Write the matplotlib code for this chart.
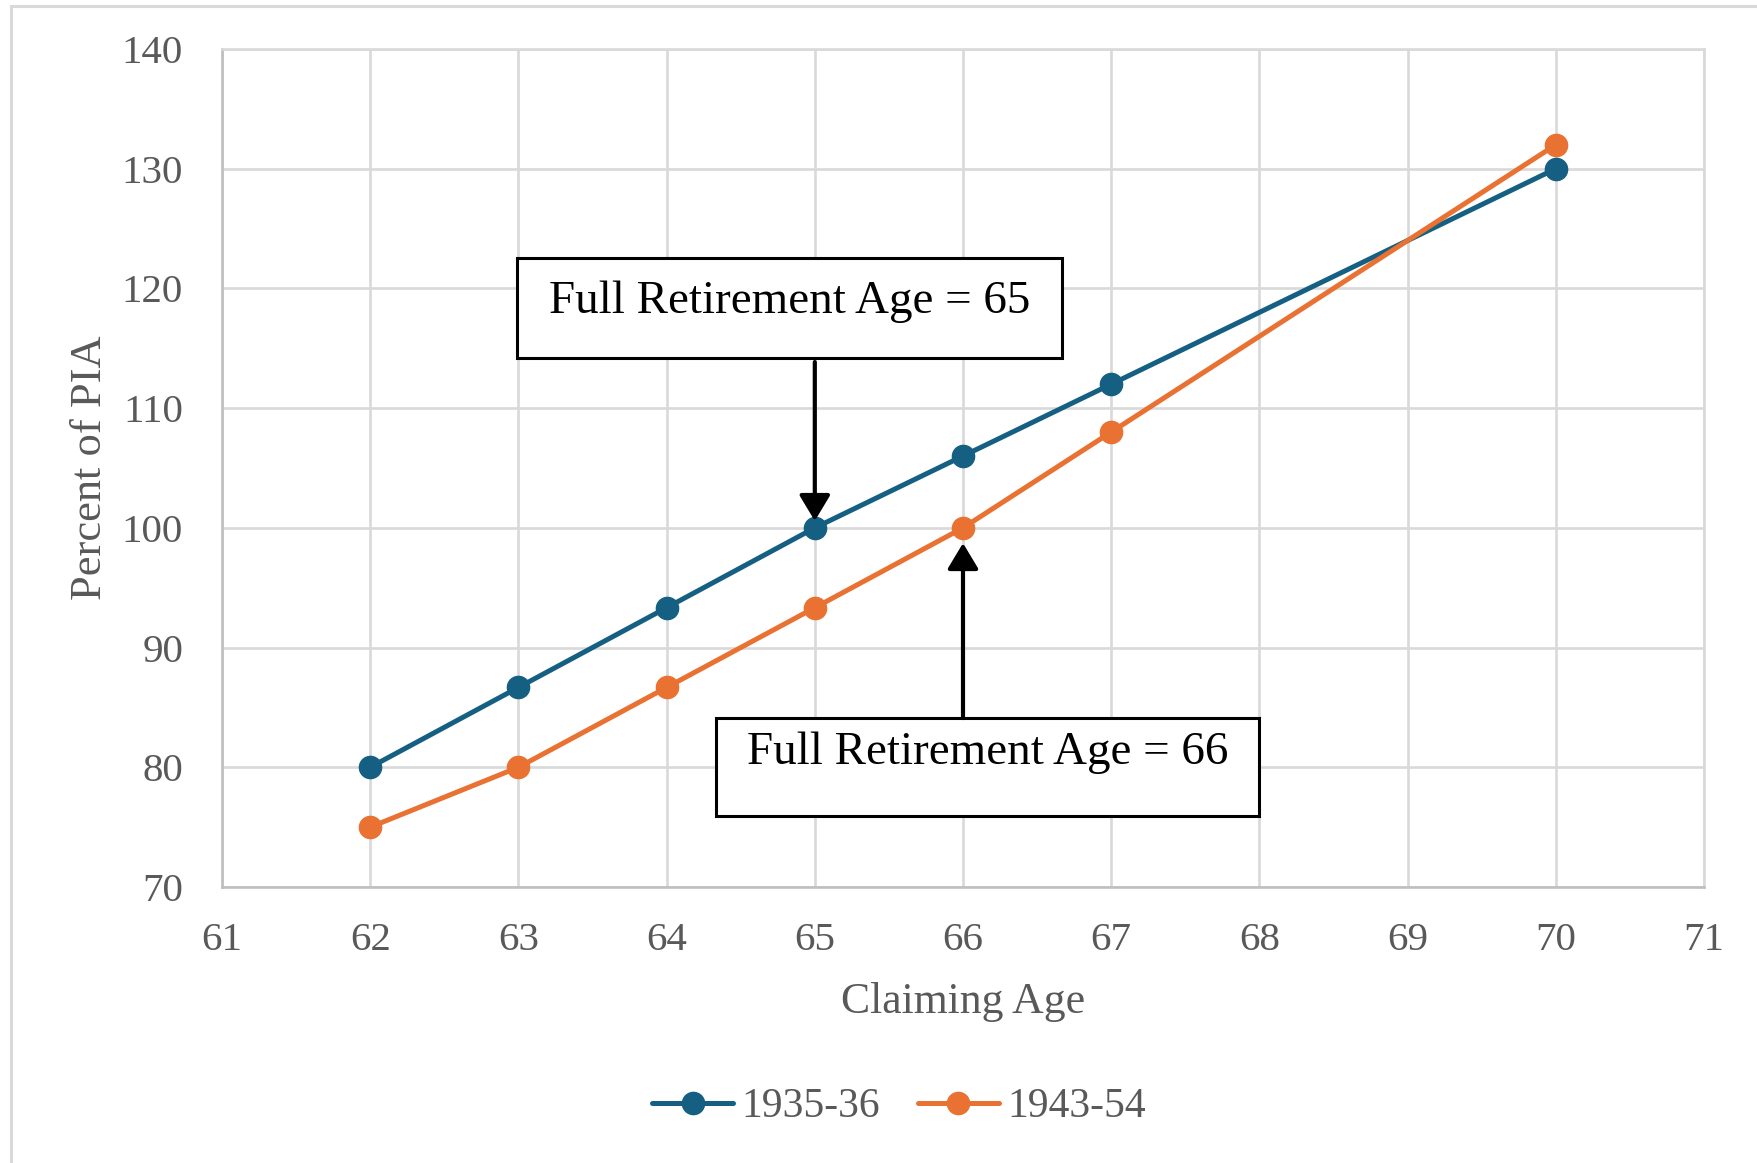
import matplotlib
matplotlib.use('Agg')
import matplotlib.pyplot as plt
from matplotlib.lines import Line2D
from matplotlib.patches import Rectangle

plt.rcParams['font.family'] = ['Liberation Serif', 'DejaVu Serif']

# benefit as percent of PIA by claiming age
ages = [62, 63, 64, 65, 66, 67, 70]
pct_1935_36 = [80, 86.67, 93.33, 100, 106, 112, 130]
pct_1943_54 = [75, 80, 86.67, 93.33, 100, 108, 132]
series_names = ['1935-36', '1943-54']
series_colors = ['#156082', '#E97132']

x_ticks = list(range(61, 72))
y_ticks = list(range(70, 141, 10))

fra_notes = ['Full Retirement Age = 65', 'Full Retirement Age = 66']
fra_ages = [65, 66]

grey_txt = '#595959'
grid_col = '#d9d9d9'

W, H = 1758, 1163
fig = plt.figure(figsize=(W / 100, H / 100), dpi=100)

# outer frame (left and top edges only visible)
fig.add_artist(Line2D([10.5 / W, 10.5 / W], [0, 1 - 5.5 / H], transform=fig.transFigure,
                      color=grid_col, lw=2.2))
fig.add_artist(Line2D([10.5 / W, 1], [1 - 5.5 / H, 1 - 5.5 / H], transform=fig.transFigure,
                      color=grid_col, lw=2.2))

ax = fig.add_axes([222 / W, 1 - 887 / H, (1704 - 222) / W, (887 - 49) / H])

for vals, name, col in zip([pct_1935_36, pct_1943_54], series_names, series_colors):
    ax.plot(ages, vals, color=col, lw=3.6, marker='o', markersize=16, label=name,
            solid_capstyle='round', zorder=3)

ax.set_xlim(61, 71)
ax.set_ylim(70, 140)
ax.set_xticks(x_ticks)
ax.set_yticks(y_ticks)
ax.grid(True, color=grid_col, lw=1.9)
ax.set_axisbelow(True)
ax.tick_params(axis='both', length=0, labelsize=29.5, labelcolor=grey_txt)
ax.tick_params(axis='x', pad=25)
ax.tick_params(axis='y', pad=28)
for s in ['left', 'bottom']:
    ax.spines[s].set_color('#bfbfbf')
    ax.spines[s].set_linewidth(1.9)
for s in ['top', 'right']:
    ax.spines[s].set_color(grid_col)
    ax.spines[s].set_linewidth(1.9)

fig.text(963 / W, 1 - 1013 / H, 'Claiming Age', fontsize=31.5, color=grey_txt,
         ha='center', va='baseline')
fig.text(101 / W, 1 - 467.5 / H, 'Percent of PIA', fontsize=32, color=grey_txt,
         rotation=90, rotation_mode='anchor', ha='center', va='baseline')

# annotation boxes with arrows pointing at each full retirement age
boxes = [(62.99, 114.19, 66.67, 122.54), (64.33, 75.92, 68.0, 84.11)]
baselines = [117.94, 80.3]
arrow_y0 = [113.85, 84.11]
shrink = [5, 11]
for note, age, (x0, y0, x1, y1), yb, ya, sh in zip(fra_notes, fra_ages, boxes, baselines,
                                                   arrow_y0, shrink):
    ax.add_patch(Rectangle((x0, y0), x1 - x0, y1 - y0, facecolor='white', edgecolor='black',
                           lw=2.2, zorder=5))
    ax.text((x0 + x1) / 2, yb, note, fontsize=33.8, color='black', ha='center',
            va='baseline', zorder=6)
    ax.annotate('', xy=(age, 100), xytext=(age, ya),
                arrowprops=dict(arrowstyle='-|>,head_length=0.75,head_width=0.45',
                                mutation_scale=21, color='black', lw=3.0,
                                shrinkA=0, shrinkB=sh),
                zorder=6)

fig.legend(loc='center', bbox_to_anchor=(899 / W, 1 - 1107 / H), ncol=2, frameon=False,
           fontsize=30, labelcolor=grey_txt, handlelength=1.95, handletextpad=0.2,
           columnspacing=0.9)

fig.savefig('out.png', dpi=100, facecolor='white')
